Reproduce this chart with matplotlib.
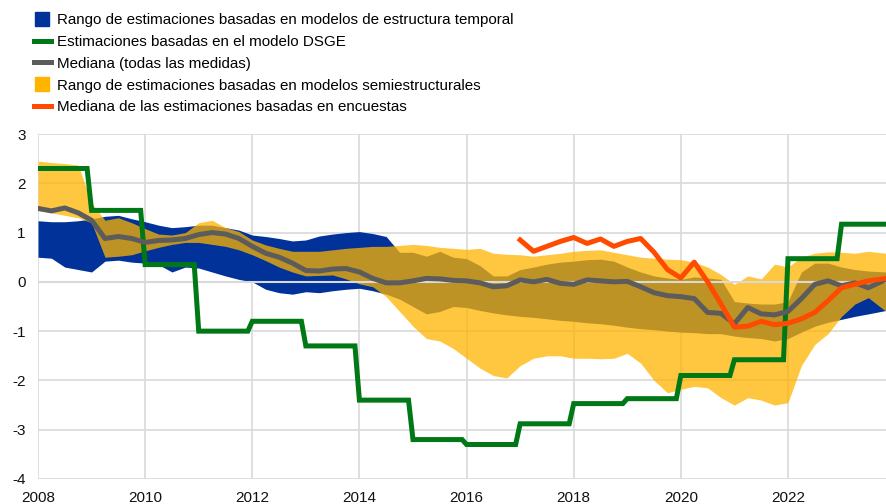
import numpy as np
import matplotlib.pyplot as plt
from matplotlib.lines import Line2D

plt.rcParams['font.family'] = ['Liberation Sans', 'DejaVu Sans']
plt.rcParams['axes.unicode_minus'] = False

# quarterly observations, last one is Nov 2023
dates = np.arange(2008, 2024, 0.25)
dates[-1] = 2023.83

# term structure models: range
ts_high = [1.24, 1.22, 1.22, 1.24, 1.28, 1.33, 1.35, 1.28,
           1.22, 1.15, 1.10, 1.12, 1.15, 1.15, 1.10, 1.05,
           0.95, 0.92, 0.88, 0.83, 0.85, 0.93, 0.97, 1.00,
           1.02, 0.98, 0.92, 0.60, 0.60, 0.52, 0.62, 0.50,
           0.47, 0.33, 0.12, 0.12, 0.25, 0.30, 0.36, 0.40,
           0.42, 0.45, 0.46, 0.42, 0.30, 0.20, 0.12, 0.08,
           0.05, 0.10, 0.08, 0.05, -0.40, -0.43, -0.45, -0.45,
           -0.40, 0.20, 0.38, 0.38, 0.30, 0.25, 0.22, 0.20]
ts_low = [0.50, 0.48, 0.30, 0.25, 0.20, 0.42, 0.44, 0.40,
          0.38, 0.35, 0.20, 0.30, 0.28, 0.20, 0.12, 0.05,
          0.00, -0.15, -0.22, -0.25, -0.20, -0.22, -0.18, -0.15,
          -0.13, -0.18, -0.25, -0.35, -0.50, -0.65, -0.60, -0.50,
          -0.52, -0.58, -0.63, -0.67, -0.70, -0.72, -0.75, -0.78,
          -0.80, -0.83, -0.85, -0.88, -0.92, -0.95, -0.97, -1.00,
          -1.02, -1.03, -1.05, -1.05, -1.10, -1.13, -1.15, -1.20,
          -1.15, -1.02, -0.90, -0.82, -0.76, -0.70, -0.65, -0.58]

# semi-structural models: range
ss_high = [2.45, 2.42, 2.40, 2.37, 1.60, 1.25, 1.30, 1.20,
           1.08, 0.97, 0.95, 1.00, 1.20, 1.25, 1.10, 1.02,
           0.85, 0.75, 0.68, 0.62, 0.62, 0.62, 0.65, 0.68,
           0.70, 0.72, 0.72, 0.74, 0.76, 0.74, 0.70, 0.68,
           0.66, 0.68, 0.58, 0.56, 0.55, 0.52, 0.55, 0.58,
           0.62, 0.64, 0.65, 0.60, 0.55, 0.50, 0.48, 0.46,
           0.45, 0.40, 0.30, 0.15, -0.05, 0.12, 0.06, 0.36,
           0.30, 0.50, 0.58, 0.61, 0.60, 0.58, 0.62, 0.58]
ss_low = [1.45, 1.40, 1.35, 1.30, 1.20, 0.50, 0.52, 0.55,
          0.63, 0.70, 0.76, 0.80, 0.80, 0.76, 0.72, 0.65,
          0.55, 0.43, 0.30, 0.20, 0.12, 0.13, 0.14, 0.06,
          -0.04, -0.10, -0.30, -0.60, -0.90, -1.15, -1.20, -1.35,
          -1.55, -1.75, -1.90, -1.95, -1.70, -1.55, -1.50, -1.50,
          -1.55, -1.55, -1.56, -1.55, -1.45, -1.65, -2.00, -2.25,
          -2.18, -2.12, -2.15, -2.35, -2.50, -2.35, -2.40, -2.50,
          -2.45, -1.70, -1.27, -1.05, -0.70, -0.45, -0.32, -0.60]

# median of all measures
median_all = [1.49, 1.44, 1.50, 1.40, 1.25, 0.88, 0.92, 0.88,
              0.80, 0.84, 0.85, 0.88, 0.96, 1.00, 0.97, 0.88,
              0.72, 0.58, 0.50, 0.38, 0.23, 0.22, 0.26, 0.27,
              0.20, 0.07, -0.02, -0.02, 0.02, 0.07, 0.06, 0.03,
              0.02, -0.02, -0.10, -0.08, 0.04, 0.00, 0.05, -0.03,
              -0.05, 0.04, 0.02, 0.00, 0.01, -0.10, -0.22, -0.28,
              -0.30, -0.34, -0.62, -0.64, -0.85, -0.52, -0.65, -0.67,
              -0.60, -0.34, -0.05, 0.02, -0.08, -0.02, -0.12, 0.05]

# survey median, from 2017
survey_dates = dates[36:]
survey = [0.85, 0.62, 0.72, 0.82, 0.90, 0.78, 0.87, 0.72,
          0.82, 0.88, 0.60, 0.25, 0.08, 0.40, 0.00, -0.45,
          -0.92, -0.90, -0.80, -0.87, -0.84, -0.75, -0.62, -0.38,
          -0.12, -0.05, 0.02, 0.07]

# DSGE: one value per year
dsge_years = np.arange(2008, 2024)
dsge = [2.3, 1.45, 0.35, -1.0, -0.8, -1.3, -2.4, -3.2,
        -3.3, -2.88, -2.47, -2.37, -1.9, -1.58, 0.47, 1.17]

labels = ["Rango de estimaciones basadas en modelos de estructura temporal",
          "Estimaciones basadas en el modelo DSGE",
          "Mediana (todas las medidas)",
          "Rango de estimaciones basadas en modelos semiestructurales",
          "Mediana de las estimaciones basadas en encuestas"]

blue = '#003299'
yellow = '#FFB400'
green = '#007816'
grey = '#5C5C5C'
orange = '#FF4B00'
gridc = '#d9d9d9'

fig = plt.figure(figsize=(8.86, 5.04), dpi=100)
ax = fig.add_axes([38 / 886, 25 / 504, 848 / 886, 345 / 504])

ax.fill_between(dates, ts_low, ts_high, color=blue, lw=0, zorder=1)
ax.fill_between(dates, ss_low, ss_high, color=yellow, alpha=0.75, lw=0, zorder=1.5)
ax.axhline(0, color=gridc, lw=1.5, zorder=2)

# step line with one-month transitions between years
gx = np.column_stack([dsge_years, np.minimum(dsge_years + 11 / 12, dates[-1])]).ravel()
gy = np.repeat(dsge, 2)
ax.plot(gx, gy, color=green, lw=3.6, zorder=3, solid_joinstyle='miter')
ax.plot(dates, median_all, color=grey, lw=3.6, zorder=4)
ax.plot(survey_dates, survey, color=orange, lw=3.6, zorder=5)

ax.set_xlim(2008, 2023.83)
ax.set_ylim(-4, 3)
ax.set_xticks(np.arange(2008, 2023, 2))
ax.set_yticks(np.arange(-4, 4, 1))
ax.grid(True, color=gridc, lw=1.2, zorder=0)
ax.set_axisbelow(True)
for s in ax.spines.values():
    s.set_visible(False)
ax.tick_params(length=0, labelsize=11, pad=9, colors='#111111')

handles = [Line2D([], [], ls='none', marker='s', ms=9.5, color=blue),
           Line2D([], [], color=green, lw=3.6),
           Line2D([], [], color=grey, lw=3.6),
           Line2D([], [], ls='none', marker='s', ms=9.5, color=yellow),
           Line2D([], [], color=orange, lw=3.6)]
fig.legend(handles, labels, loc='upper left', bbox_to_anchor=(34 / 886, 1 - 13 / 504),
           frameon=False, fontsize=10.9, handlelength=1.1, handletextpad=0.4,
           labelspacing=0.52, borderpad=0, borderaxespad=0)

fig.savefig('out.png', dpi=100)
